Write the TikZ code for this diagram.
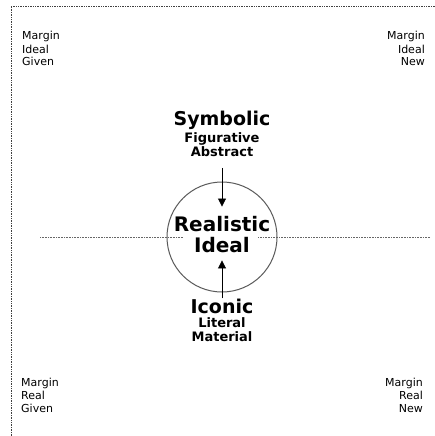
\documentclass[tikz,border=0pt]{standalone}
\usepackage{fontspec}
\setmainfont{DejaVu Sans}
\usetikzlibrary{positioning,arrows.meta}

\begin{document}
\begin{tikzpicture}[x=1pt, y=-1pt,
    frame/.style={densely dotted, black!75, line width=0.7pt},
    axis/.style={densely dotted, black!60, line width=0.6pt},
    corner/.style={font=\fontsize{11}{13}\selectfont, inner sep=0pt, anchor=base west, align=left},
    cornerr/.style={corner, anchor=base east, align=right},
    big/.style={font=\bfseries\fontsize{19}{19}\selectfont, inner sep=0pt},
    small/.style={font=\bfseries\fontsize{13}{13}\selectfont, inner sep=0pt},
    arrow/.style={-{Triangle[length=8pt,width=8pt]}, line width=0.8pt}]
\useasboundingbox (0,0) rectangle (435,436);
% frame, top and left only
\coordinate (tl) at (11,6);
\coordinate (tr) at (435,6);
\coordinate (bl) at (11,436);
\draw[frame] (tr) -- (tl) -- (bl);
% corner labels (base = last line)
\node[corner] (ig) at (22,66) {Margin\\Ideal\\Given};
\node[cornerr] (in) at (425,66) {Margin\\Ideal\\New};
\node[corner] (rg) at (21,412) {Margin\\Real\\Given};
\node[cornerr] (rn) at (423,412) {Margin\\Real\\New};
% centre
\node[draw, black!65, circle, minimum size=110pt, line width=1pt] (ring) at (222,237) {};
\node[font=\bfseries\fontsize{20}{21}\selectfont, align=center, inner sep=0pt] (real) at (222,235) {Realistic\\Ideal};
\node[big, anchor=base] (symbolic) at (222,125) {Symbolic};
\node[small, below=3pt of symbolic] (figurative) {Figurative};
\node[small, below=1pt of figurative] (abstract) {Abstract};
\node[big, anchor=base] (iconic) at (222,313) {Iconic};
\node[small, below=4pt of iconic] (literal) {Literal};
\node[small, below=3pt of literal] (material) {Material};
% axis
\coordinate (axl) at (40,237);
\coordinate (axr) at (430,237);
\draw[axis, shorten >=-9pt] (axl) -- (axl -| real.west);
\draw[axis, shorten >=-12pt] (axr) -- (axr -| real.east);
% arrows
\draw[arrow, shorten <=11pt, shorten >=10pt] (abstract.south) -- (real.north);
\draw[arrow, shorten >=7pt] (iconic.north) -- (real.south);
\end{tikzpicture}
\end{document}
